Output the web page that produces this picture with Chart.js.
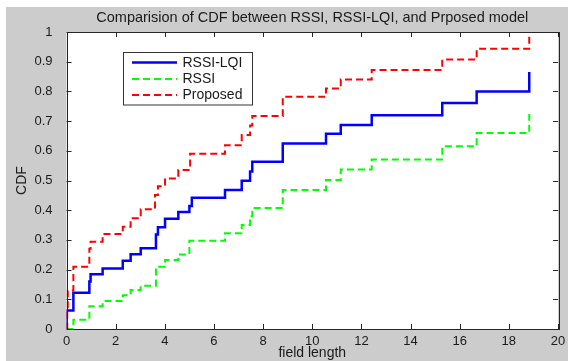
<!DOCTYPE html>
<html>
<head>
<meta charset="utf-8">
<script src="https://cdn.jsdelivr.net/npm/chart.js@4.4.1/dist/chart.umd.min.js"></script>
<style>
  html, body { margin: 0; padding: 0; background: #ffffff; }
  #wrap { width: 568px; height: 361px; position: relative; }
</style>
</head>
<body>
<div id="wrap"><canvas id="c" width="568" height="361"></canvas></div>
<script>
// ---- data ----
const chartTitle = 'Comparision of CDF between RSSI, RSSI-LQI, and Prposed model';
const xAxisTitle = 'field length';
const yAxisTitle = 'CDF';
const seriesNames = ['RSSI-LQI', 'RSSI', 'Proposed'];

const xTickLabels = ['0','2','4','6','8','10','12','14','16','18','20'];
const yTickLabels = ['0','0.1','0.2','0.3','0.4','0.5','0.6','0.7','0.8','0.9','1'];

// RSSI-LQI (blue, solid) : step positions and CDF value after each step
const xRssiLqi = [0, 0, 0.28, 0.93, 0.98, 1.47, 2.29, 2.61, 3.02, 3.64, 3.72, 4.01, 4.55, 5.0, 5.1, 6.45, 7.13, 7.47, 7.56, 8.8, 10.56, 11.16, 12.42, 15.29, 16.69, 18.83];
const yRssiLqi = [0, 0.062, 0.122, 0.16, 0.184, 0.204, 0.23, 0.252, 0.272, 0.318, 0.343, 0.371, 0.394, 0.414, 0.442, 0.468, 0.499, 0.53, 0.563, 0.625, 0.657, 0.687, 0.72, 0.761, 0.80, 0.865];

// RSSI (green, dashed)
const xRssi = [0, 0.28, 0.93, 1.47, 2.29, 2.61, 3.02, 3.64, 4.01, 4.55, 5.0, 6.45, 7.13, 7.47, 7.56, 8.8, 10.56, 11.16, 12.42, 15.29, 16.69, 18.83];
const yRssi = [0, 0.031, 0.077, 0.094, 0.114, 0.131, 0.146, 0.21, 0.232, 0.251, 0.297, 0.322, 0.35, 0.38, 0.407, 0.468, 0.502, 0.537, 0.571, 0.615, 0.66, 0.724];

// Proposed (red, dashed)
const xProposed = [0, 0.03, 0.05, 0.28, 0.93, 0.98, 1.47, 2.29, 2.61, 3.02, 3.6, 3.72, 4.01, 4.55, 5.03, 6.45, 7.13, 7.47, 7.56, 8.8, 10.56, 11.16, 12.42, 15.29, 16.69, 18.83];
const yProposed = [0, 0.065, 0.13, 0.21, 0.27, 0.294, 0.32, 0.344, 0.373, 0.403, 0.451, 0.481, 0.507, 0.535, 0.59, 0.619, 0.653, 0.685, 0.717, 0.782, 0.81, 0.84, 0.872, 0.907, 0.944, 1.0];

function pairs(xs, ys) { return xs.map((x, i) => ({ x: x, y: ys[i] })); }

const FONT = '"Liberation Sans", Arial, Helvetica, sans-serif';
const TXT = '#1a1a1a';

const figurePlugin = {
  id: 'figure',
  beforeDraw(chart) {
    const ctx = chart.ctx, a = chart.chartArea;
    ctx.save();
    ctx.fillStyle = '#ffffff';
    ctx.fillRect(0, 0, chart.width, chart.height);
    ctx.fillStyle = '#cccccc';
    ctx.fillRect(6, 7, chart.width - 6, chart.height - 7);
    ctx.fillStyle = '#ffffff';
    ctx.fillRect(a.left, a.top, a.right - a.left, a.bottom - a.top);
    // title centred over the axes
    ctx.fillStyle = TXT;
    ctx.font = '14.5px ' + FONT;
    ctx.textAlign = 'center';
    ctx.textBaseline = 'middle';
    ctx.fillText(chartTitle, (a.left + a.right) / 2, 18);
    ctx.restore();
  },
  afterDatasetsDraw(chart) {
    const ctx = chart.ctx, a = chart.chartArea;
    const xs = chart.scales.x, ys = chart.scales.y;
    ctx.save();
    ctx.strokeStyle = '#262626';
    ctx.lineWidth = 1;
    // inward tick marks on all four sides
    ctx.beginPath();
    xs.ticks.forEach(t => {
      const p = Math.round(xs.getPixelForValue(t.value)) + 0.5;
      ctx.moveTo(p, a.bottom); ctx.lineTo(p, a.bottom - 5);
      ctx.moveTo(p, a.top); ctx.lineTo(p, a.top + 5);
    });
    ys.ticks.forEach(t => {
      const p = Math.round(ys.getPixelForValue(t.value)) + 0.5;
      ctx.moveTo(a.left, p); ctx.lineTo(a.left + 5, p);
      ctx.moveTo(a.right, p); ctx.lineTo(a.right - 5, p);
    });
    ctx.stroke();
    // axes box
    ctx.strokeRect(Math.round(a.left) + 0.5, Math.round(a.top) + 0.5,
                   Math.round(a.right - a.left), Math.round(a.bottom - a.top));

    // legend box
    const lx = 123.5, ly = 52.5, lw = 129, lh = 52.5;
    ctx.fillStyle = '#ffffff';
    ctx.fillRect(lx, ly, lw, lh);
    ctx.strokeStyle = '#333333';
    ctx.strokeRect(lx, ly, lw, lh);
    const rows = [62.5, 79, 95];
    chart.data.datasets.forEach((ds, i) => {
      const y = rows[i];
      ctx.beginPath();
      ctx.strokeStyle = ds.borderColor;
      ctx.lineWidth = ds.borderWidth;
      ctx.setLineDash(ds.borderDash || []);
      ctx.moveTo(132, y); ctx.lineTo(177, y);
      ctx.stroke();
      ctx.setLineDash([]);
      ctx.fillStyle = TXT;
      ctx.font = '14px ' + FONT;
      ctx.textAlign = 'left';
      ctx.textBaseline = 'middle';
      ctx.fillText(ds.label, 182.5, y + 0.5);
    });
    ctx.restore();
  }
};

new Chart(document.getElementById('c'), {
  type: 'line',
  data: {
    datasets: [
      { label: seriesNames[0], data: pairs(xRssiLqi, yRssiLqi), borderColor: '#0000ff', borderWidth: 2.5, stepped: 'before', pointRadius: 0, fill: false, order: 2 },
      { label: seriesNames[1], data: pairs(xRssi, yRssi), borderColor: '#00ff00', borderWidth: 2, borderDash: [7, 4], stepped: 'before', pointRadius: 0, fill: false, order: 1 },
      { label: seriesNames[2], data: pairs(xProposed, yProposed), borderColor: '#ff0000', borderWidth: 2, borderDash: [7, 4], stepped: 'before', pointRadius: 0, fill: false, order: 0 }
    ]
  },
  options: {
    responsive: false,
    animation: false,
    devicePixelRatio: 1,
    layout: { padding: { top: 32, right: 10, left: 0, bottom: 0 } },
    plugins: { legend: { display: false }, tooltip: { enabled: false }, title: { display: false } },
    scales: {
      x: {
        type: 'linear', min: 0, max: 20,
        grid: { display: false },
        border: { display: false },
        afterFit(s) { s.height = 32; },
        ticks: {
          stepSize: 2, padding: -3, color: TXT, maxRotation: 0, autoSkip: false,
          font: { family: FONT, size: 13 },
          callback: (v, i) => xTickLabels[i]
        },
        title: { display: true, text: xAxisTitle, color: TXT, padding: { top: 0, bottom: 1 }, font: { family: FONT, size: 14, lineHeight: 1 } }
      },
      y: {
        type: 'linear', min: 0, max: 1,
        grid: { display: false },
        border: { display: false },
        afterFit(s) { s.width = 66.5; },
        ticks: {
          stepSize: 0.1, padding: 6, color: TXT, autoSkip: false,
          font: { family: FONT, size: 13 },
          callback: (v, i) => yTickLabels[i]
        },
        title: { display: true, text: yAxisTitle, color: TXT, padding: { top: 15, bottom: 0 }, font: { family: FONT, size: 14, lineHeight: 1 } }
      }
    }
  },
  plugins: [figurePlugin]
});
</script>
</body>
</html>
